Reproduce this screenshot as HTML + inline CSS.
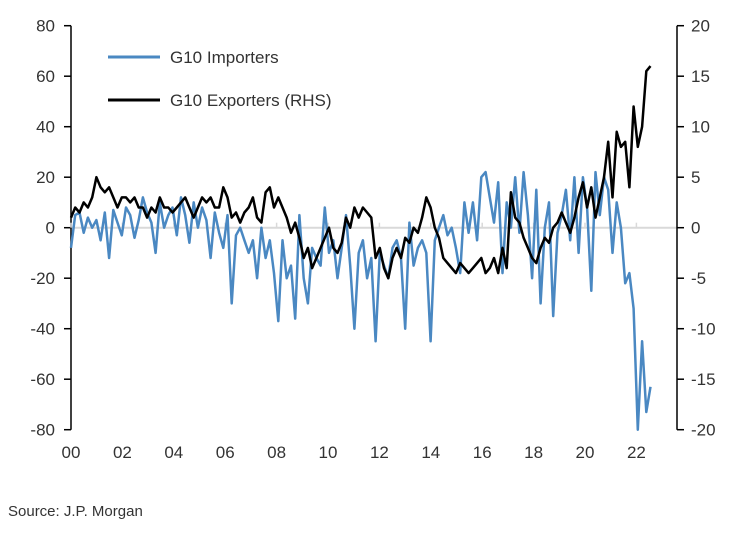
<!DOCTYPE html>
<html><head><meta charset="utf-8"><style>
body{margin:0;background:#fff;font-family:"Liberation Sans",sans-serif;}
svg text{font-family:"Liberation Sans",sans-serif;fill:#333;}
</style></head><body>
<svg id="c" width="736" height="530">
<g id="axes"></g><g id="series"></g>
<g>
<line x1="108" y1="57" x2="160" y2="57" stroke="#4a88c2" stroke-width="3"/>
<text x="170" y="63" font-size="17">G10 Importers</text>
<line x1="108" y1="100" x2="160" y2="100" stroke="#000" stroke-width="3"/>
<text x="170" y="106" font-size="17">G10 Exporters (RHS)</text>
</g>
<text x="8" y="516" font-size="15">Source: J.P. Morgan</text>
</svg>
<script>
const xTickLabels=["00","02","04","06","08","10","12","14","16","18","20","22"];
const leftTicks=[80,60,40,20,0,-20,-40,-60,-80];
const rightTicks=[20,15,10,5,0,-5,-10,-15,-20];
const startYear=2000, endYear=2022.55;
const importers=[-8,5,6,-2,4,0, 3,-5,6,-12,7,2, -3,8,5,-4,3,12, 6,2,-10,10,0,5, 8,-3,12,5,-6,10, 0,8,3,-12,6,-2,
-8,5,-30,-3,0,-5, -10,-5,-20,0,-12,-5, -18,-37,-5,-20,-15,-36, 5,-20,-30,-8,-12,-15, 8,-10,-5,-20,-8,5,
-15,-40,-10,-5,-20,-12, -45,-10,-15,-20,-8,-5, -12,-40,2,-15,-8,-5, -10,-45,-5,0,5,-3, 0,-8,-18,10,-2,10,
-5,20,22,12,2,18, -18,10,0,20,-2,22, 5,-20,15,-30,0,10, -35,-2,5,15,-5,20, -10,20,8,-25,22,5,
20,15,-10,10,0,-22, -18,-32,-80,-45,-73,-63];
const exporters=[1,2,1.5,2.5,2,3, 5,4,3.5,4,3,2, 3,3,2.5,3,2,2, 1,2,1.5,3,2,2, 1.5,2,2.5,3,2,1, 2,3,2.5,3,2,2,
4,3,1,1.5,0.5,1.5, 2,3,1,0.5,3.5,4, 2,3,2,1,-0.5,0.5, -1,-3,-2,-4,-3,-2, -1,0,-2,-2.5,-1.5,1,
0,2,1,2,1.5,1, -3,-2,-4,-5,-3,-2, -3,-1,-1.5,0,-0.5,1, 3,2,0,-1,-3,-3.5, -4,-4.5,-3.5,-4,-4.5,-4,
-3.5,-3,-4.5,-4,-3,-4.5, -2,-4,3.5,1,0.5,-1, -2,-3,-3.5,-2,-1,-1.5, 0,0.5,1.5,0.5,-0.5,1, 3,4.5,2,4,1,3,
5,8.5,3,9.5,8,8.5, 4,12,8,10,15.5,16];
const NS="http://www.w3.org/2000/svg";
const X0=71,X1=677;
function x(t){return 71+(t-2000)*25.7;}
function yL(v){return 227.7-v*2.525;}
function yR(v){return 227.7-v*10.1;}
const ax=document.getElementById('axes');
function mk(tag,attrs,parent){const e=document.createElementNS(NS,tag);for(const k in attrs)e.setAttribute(k,attrs[k]);parent.appendChild(e);return e;}
let zl=mk('line',{x1:X0,x2:X1,y1:yL(0),y2:yL(0),stroke:'#d9d9d9','stroke-width':2},ax);


let la=mk('line',{x1:X0,x2:X0,y1:yL(80),y2:yL(-80),stroke:'#000','stroke-width':1.5},ax);


let ra=mk('line',{x1:X1,x2:X1,y1:yR(20),y2:yR(-20),stroke:'#000','stroke-width':1.5},ax);


leftTicks.forEach(v=>{
 const l=mk('line',{x1:X0-7,x2:X0,y1:yL(v),y2:yL(v),stroke:'#000','stroke-width':1.5},ax);
 
 
 const t=mk('text',{x:X0-16,y:yL(v)+6,'font-size':17,'text-anchor':'end'},ax);t.textContent=v;
 
 
});
rightTicks.forEach(v=>{
 const l=mk('line',{x1:X1,x2:X1+7,y1:yR(v),y2:yR(v),stroke:'#000','stroke-width':1.5},ax);
 
 
 const t=mk('text',{x:X1+14,y:yR(v)+6,'font-size':17},ax);t.textContent=v;
 
 
});
xTickLabels.forEach((s,i)=>{
 const xx=x(2000+2*i);
 const l=mk('line',{x1:xx,x2:xx,y1:yL(0)-5,y2:yL(0),stroke:'#d9d9d9','stroke-width':1.5},ax);
 
 
 const t=mk('text',{x:xx,y:458,'font-size':17,'text-anchor':'middle'},ax);t.textContent=s;
 
 
});
const sg=document.getElementById('series');
function path(vals,fy){const st=(endYear-startYear)/(vals.length-1);return vals.map((v,i)=>(i?'L':'M')+x(startYear+i*st).toFixed(1)+','+fy(v).toFixed(1)).join('');}
const p1=mk('path',{d:path(importers,yL),fill:'none',stroke:'#4a88c2','stroke-width':2.5,'stroke-linejoin':'round'},sg);


const p2=mk('path',{d:path(exporters,yR),fill:'none',stroke:'#000','stroke-width':2.5,'stroke-linejoin':'round'},sg);


</script>
</body></html>
